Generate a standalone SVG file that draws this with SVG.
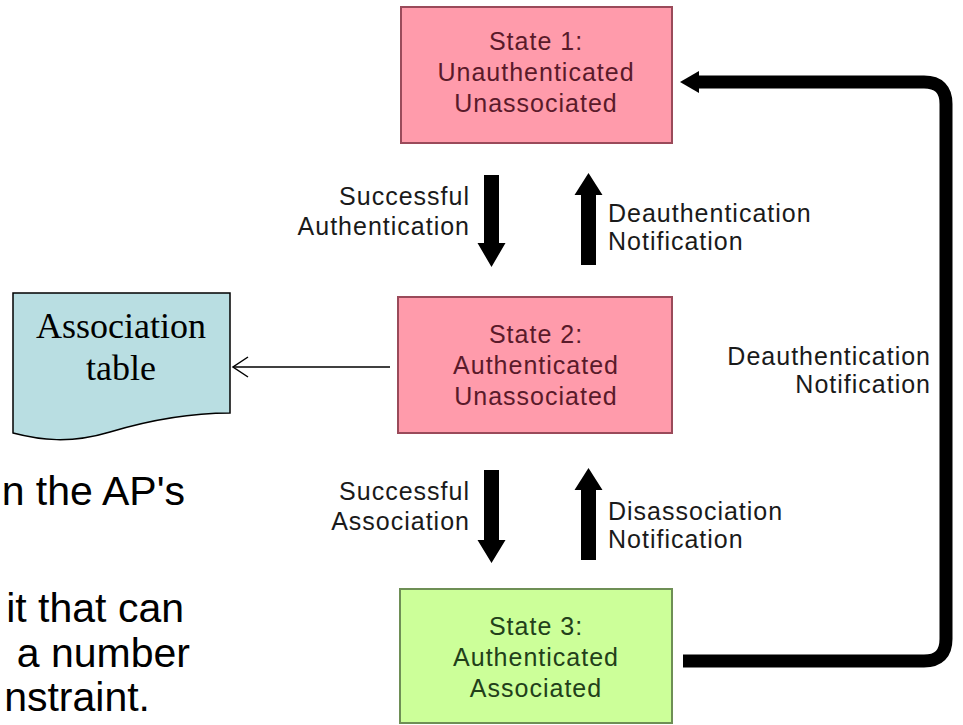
<svg xmlns="http://www.w3.org/2000/svg" width="963" height="725" viewBox="0 0 963 725">
<style>
.lbl{font-family:"Liberation Sans",Arial,sans-serif;font-size:25px;letter-spacing:1px;fill:#1a1a1a}
.st{font-family:"Liberation Sans",Arial,sans-serif;font-size:25px;letter-spacing:1px;text-anchor:middle}
.pink{fill:#FF9BAB;stroke:#9A4A5A;stroke-width:2}
.green{fill:#CCFF99;stroke:#6E8F55;stroke-width:2}
.pt{fill:#5A1A2A}
.gt{fill:#22401A}
.blk{fill:#000}
.body{font-family:"Liberation Sans",Arial,sans-serif;font-size:41px;fill:#000}
</style>
<rect width="963" height="725" fill="#fff"/>

<g id="state1">
<rect class="pink" x="401" y="7" width="271" height="136"/>
<text class="st pt" x="536" y="50">State 1:</text>
<text class="st pt" x="536" y="81">Unauthenticated</text>
<text class="st pt" x="536" y="112">Unassociated</text>
</g>

<g id="state2">
<rect class="pink" x="398" y="297" width="274" height="136"/>
<text class="st pt" x="536" y="343">State 2:</text>
<text class="st pt" x="536" y="374">Authenticated</text>
<text class="st pt" x="536" y="405">Unassociated</text>
</g>

<g id="state3">
<rect class="green" x="400" y="589" width="272" height="134"/>
<text class="st gt" x="536" y="635">State 3:</text>
<text class="st gt" x="536" y="666">Authenticated</text>
<text class="st gt" x="536" y="697">Associated</text>
</g>

<g id="assoc-table">
<path d="M13 293 H230 V413 C190 413 150 420 110 432 C70 444 40 440 13 433 Z" fill="#B9DEE2" stroke="#000" stroke-width="1.5"/>
<text x="121" y="338" font-family="Liberation Serif,'Times New Roman',serif" font-size="36" text-anchor="middle" fill="#000">Association</text>
<text x="121" y="380" font-family="Liberation Serif,'Times New Roman',serif" font-size="36" text-anchor="middle" fill="#000">table</text>
</g>

<g id="connectors">
<polygon class="blk" points="484,175 499,175 499,243 505.5,243 491.5,267 477.5,243 484,243"/>
<polygon class="blk" points="581,265 596,265 596,195 602.5,195 588.5,173 574.5,195 581,195"/>
<polygon class="blk" points="484,470 499,470 499,540 505.5,540 491.5,563 477.5,540 484,540"/>
<polygon class="blk" points="581,560 596,560 596,490 602.5,490 588.5,468 574.5,490 581,490"/>
<path d="M683 661 H924 Q946 661 946 639 V104 Q946 82 924 82 H696" fill="none" stroke="#000" stroke-width="13"/>
<polygon class="blk" points="680,82 699,71 699,93"/>
<line x1="390" y1="367" x2="233" y2="367" stroke="#000" stroke-width="1.5"/>
<polyline points="248,357 233,367 248,377" fill="none" stroke="#000" stroke-width="1.5"/>
</g>

<g id="labels">
<text class="lbl" x="470" y="205" text-anchor="end">Successful</text>
<text class="lbl" x="470" y="235" text-anchor="end">Authentication</text>
<text class="lbl" x="608" y="222">Deauthentication</text>
<text class="lbl" x="608" y="250">Notification</text>
<text class="lbl" x="931" y="365" text-anchor="end">Deauthentication</text>
<text class="lbl" x="931" y="393" text-anchor="end">Notification</text>
<text class="lbl" x="470" y="500" text-anchor="end">Successful</text>
<text class="lbl" x="470" y="530" text-anchor="end">Association</text>
<text class="lbl" x="608" y="520">Disassociation</text>
<text class="lbl" x="608" y="548">Notification</text>
</g>

<g id="body-text">
<text class="body" x="185" y="505" text-anchor="end">n the AP's</text>
<text class="body" x="184" y="622" text-anchor="end">it that can</text>
<text class="body" x="190" y="667" text-anchor="end">a number</text>
<text class="body" x="150" y="711" text-anchor="end">nstraint.</text>
</g>
</svg>
